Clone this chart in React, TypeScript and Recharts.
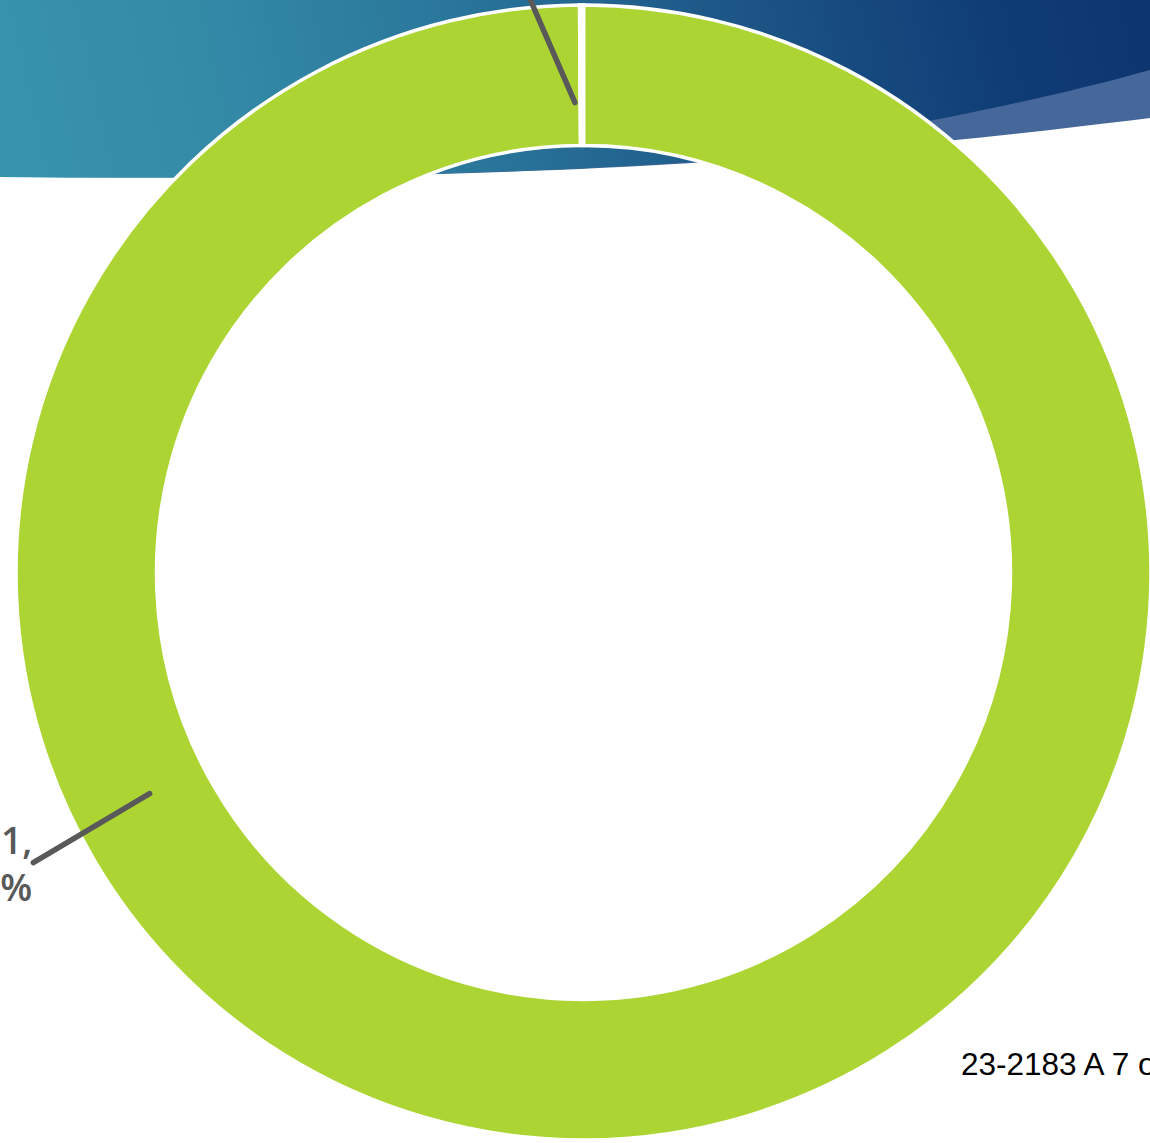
import { Cell, Pie, PieChart } from "recharts";

// slices, drawn clockwise from 12 o'clock
const categories = ["Yes", "No"];
const counts = [901, 1];
const sliceColors = ["#acd433", "#ffffff"];

// where each data label sits (angle in degrees, radius in px)
const labelPlacement = [
    { from: [207, 487], to: [207.8, 622] },
    { from: [91.04, 470], to: [97.2, 640] },
];

const footerText = "23-2183 A 7 of 8";

const WIDTH = 1150;
const HEIGHT = 1143;
const CX = 583.5;
const CY = 572.5;

const total = counts.reduce((a, b) => a + b, 0);
const chartData = categories.map((name, i) => ({
    name,
    value: counts[i],
}));

const RAD = Math.PI / 180;

function polar(cx: number, cy: number, angle: number, r: number) {
    return {
        x: cx + r * Math.cos(angle * RAD),
        y: cy - r * Math.sin(angle * RAD),
    };
}

function renderLabel(props: any) {
    const { cx, cy, index } = props;
    const place = labelPlacement[index];
    if (!place) return null;

    const a = polar(cx, cy, place.from[0], place.from[1]);
    const b = polar(cx, cy, place.to[0], place.to[1]);
    const pct = Math.round((counts[index] / total) * 100);
    const line1 = `${categories[index]}, ${counts[index]},`;
    const line2 = `${pct}%`;

    const below = index === 0;

    return (
        <g key={`label-${index}`}>
            <line
                x1={a.x}
                y1={a.y}
                x2={b.x}
                y2={b.y}
                stroke="#595959"
                strokeWidth={5.5}
                strokeLinecap="round"
            />
            <text
                x={below ? b.x - 1 : b.x}
                y={below ? b.y - 9 : b.y - 55}
                textAnchor={below ? "end" : "middle"}
                fill="#595959"
                fontFamily="'Open Sans', sans-serif"
                fontWeight={600}
                fontSize={37}
            >
                <tspan>{line1}</tspan>
                <tspan x={below ? b.x - 1 : b.x} dy={47}>
                    {line2}
                </tspan>
            </text>
        </g>
    );
}

function Backdrop() {
    return (
        <svg
            width={WIDTH}
            height={HEIGHT}
            style={{ position: "absolute", left: 0, top: 0 }}
        >
            <defs>
                <linearGradient
                    id="wave-gradient"
                    gradientUnits="userSpaceOnUse"
                    x1="0"
                    y1="200"
                    x2="1150"
                    y2="-50"
                >
                    <stop offset="0%" stopColor="#3894ad" />
                    <stop offset="20%" stopColor="#338aa7" />
                    <stop offset="40%" stopColor="#2a779b" />
                    <stop offset="60%" stopColor="#1f5b8a" />
                    <stop offset="85%" stopColor="#103d76" />
                    <stop offset="100%" stopColor="#0d3570" />
                </linearGradient>
            </defs>

            <path
                d="M0,0 L0,176 C250,180 500,175 692,163 C800,155 950,143 1150,118 L1150,0 Z"
                fill="#46679a"
            />
            <path
                d="M0,0 L0,177 C250,180 500,175 692,162 C800,146 1000,112 1150,70 L1150,0 Z"
                fill="url(#wave-gradient)"
            />

            <text
                x={961}
                y={1075}
                fill="#000000"
                fontFamily="'Liberation Sans', Arial, sans-serif"
                fontSize={31.5}
            >
                {footerText}
            </text>
        </svg>
    );
}

export default function App() {
    return (
        <div
            style={{
                position: "absolute",
                left: 0,
                top: 0,
                width: WIDTH,
                height: HEIGHT,
                overflow: "hidden",
                background: "#ffffff",
            }}
        >
            <Backdrop />
            <div style={{ position: "absolute", left: 0, top: 0 }}>
                <PieChart
                    width={WIDTH}
                    height={HEIGHT}
                    margin={{ top: 0, right: 0, bottom: 0, left: 0 }}
                >
                    <Pie
                        data={chartData}
                        dataKey="value"
                        nameKey="name"
                        cx={CX}
                        cy={CY}
                        innerRadius={427}
                        outerRadius={567.5}
                        startAngle={90}
                        endAngle={-270}
                        stroke="#ffffff"
                        strokeWidth={3.5}
                        label={renderLabel}
                        labelLine={false}
                        isAnimationActive={false}
                    >
                        {chartData.map((d, i) => (
                            <Cell key={d.name} fill={sliceColors[i]} />
                        ))}
                    </Pie>
                </PieChart>
            </div>
        </div>
    );
}
